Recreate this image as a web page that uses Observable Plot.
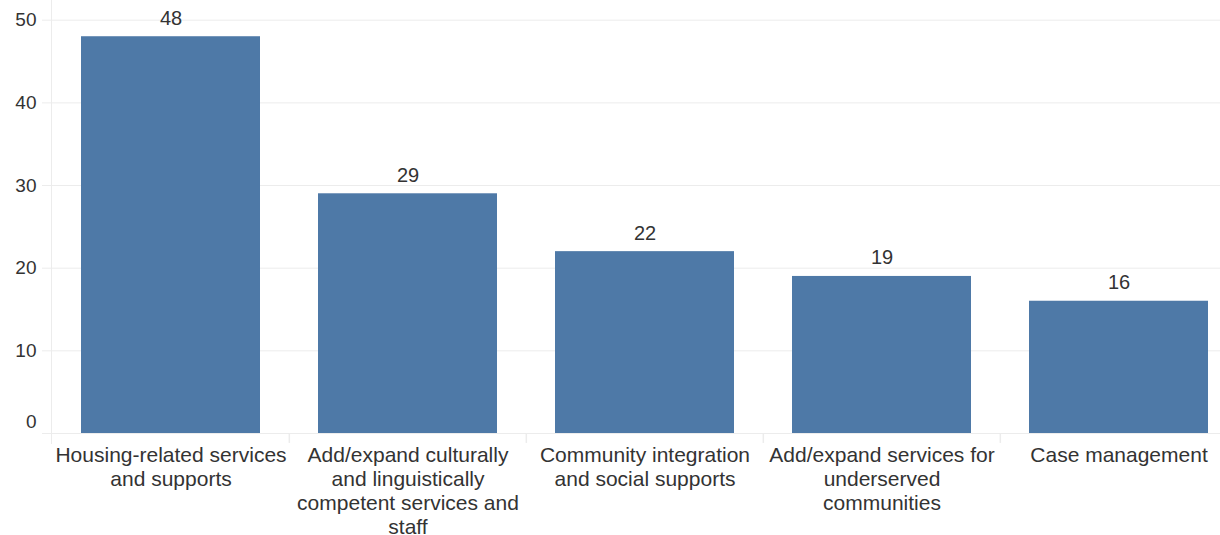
<!DOCTYPE html>
<html>
<head>
<meta charset="utf-8">
<script src="https://cdn.jsdelivr.net/npm/d3@7"></script>
<script src="https://cdn.jsdelivr.net/npm/@observablehq/plot@0.6"></script>
<style>
  html, body { margin: 0; padding: 0; background: #fff; overflow: hidden; }
  #chart svg { display: block; overflow: hidden; }
</style>
</head>
<body>
<div id="chart"></div>
<script>
const categories = [
  "Housing-related services and supports",
  "Add/expand culturally and linguistically competent services and staff",
  "Community integration and social supports",
  "Add/expand services for underserved communities",
  "Case management"
];
const tickLabels = [
  "Housing-related services\nand supports",
  "Add/expand culturally\nand linguistically\ncompetent services and\nstaff",
  "Community integration\nand social supports",
  "Add/expand services for\nunderserved\ncommunities",
  "Case management"
];
const values = [48, 29, 22, 19, 16];
const yTicks = [0, 10, 20, 30, 40, 50];

const data = categories.map((c, i) => ({category: c, value: values[i]}));
const labelOf = new Map(categories.map((c, i) => [c, tickLabels[i]]));

const W = 1220, H = 535;
const xRange = [51, 1237.5];
const padIn = 0.2457, padOut = 0.1228;
const step = (xRange[1] - xRange[0]) / (categories.length - padIn + 2 * padOut);

const textColor = "#333333";
const gridColor = "#ececec";
const font = "'Liberation Sans', Arial, sans-serif";

const chart = Plot.plot({
  width: W,
  height: H,
  marginLeft: 51,
  marginRight: 0,
  marginTop: 0,
  marginBottom: 92,
  style: {fontFamily: font, background: "#fff", color: textColor},
  x: {domain: categories, range: xRange, paddingInner: padIn, paddingOuter: padOut, align: 0.5, label: null},
  y: {domain: [0, 50], range: [433, 19.7], label: null},
  marks: [
    Plot.gridY(yTicks, {stroke: gridColor, strokeOpacity: 1, strokeWidth: 1}),
    Plot.frame({anchor: "left", stroke: gridColor, strokeWidth: 1}),
    Plot.ruleX(categories.slice(1), {x: d => d, dx: -step / 2, y1: 0, y2: -1.2, stroke: gridColor, strokeWidth: 1.5}),
    Plot.barY(data, {x: "category", y: "value", fill: "#4e79a7"}),
    Plot.text(data, {x: "category", y: "value", text: d => String(d.value), lineAnchor: "bottom", dy: -12, fontSize: 20, fill: textColor}),
    Plot.axisY(yTicks, {label: null, tickSize: 9, tickPadding: 6, stroke: gridColor, fill: textColor, fontSize: 19, tickFormat: d => d === 0 ? "" : String(d)}),
    Plot.axisY([0], {label: null, tickSize: 0, tickPadding: 15, fill: textColor, fontSize: 19, dy: -12, tickFormat: d => String(d)}),
    Plot.axisX({label: null, tickSize: 0, tickPadding: 1, fontSize: 21, lineHeight: 1.143, fill: textColor, tickFormat: d => labelOf.get(d)})
  ]
});
document.getElementById("chart").appendChild(chart);
</script>
</body>
</html>
